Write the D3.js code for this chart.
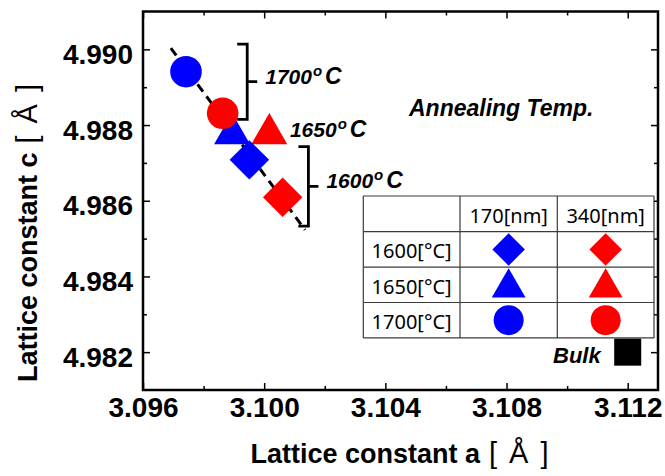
<!DOCTYPE html>
<html lang="en">
<head>
<meta charset="UTF-8">
<title>Lattice constants vs annealing temperature</title>
<script src="https://d3js.org/d3.v7.min.js"></script>
<style>
  body { margin: 0; background: #fff; }
  svg { display: block; font-family: 'Liberation Sans', Arial, sans-serif; }
  .tick text { font-size: 28px; font-weight: bold; fill: #000; }
  .tick line { stroke: #000; stroke-width: 1.5; }
  .tbl text { font-family: 'Noto Sans', sans-serif; font-size: 20px; fill: #000; }
</style>
</head>
<body>
<svg id="chart" width="665" height="476"></svg>
<script>
// annealing temperatures and layer thicknesses
const temps = ["1600", "1650", "1700"];
const thicknesses = ["170[nm]", "340[nm]"];

// 170 nm samples (blue), in order of temps
const a170 = [3.09951, 3.09894, 3.09742];
const c170 = [4.98708, 4.98777, 4.98941];
// 340 nm samples (red)
const a340 = [3.10061, 3.10017, 3.09863];
const c340 = [4.98609, 4.98777, 4.98831];
// bulk reference
const aBulk = [3.112];
const cBulk = [4.982];

// dashed guide line
const fitA = [3.09692, 3.10135];
const fitC = [4.99003, 4.98523];

// brackets grouping the 1700 and 1600 points, and the 1650 label anchor
const bracketLabels = ["1700", "1600"];
const bracketA = [3.09944, 3.10146];
const bracketTop = [4.99014, 4.98743];
const bracketBottom = [4.98815, 4.98533];
const label1650 = [3.10085, 4.98769];

const xMajor = [3.096, 3.100, 3.104, 3.108, 3.112];
const xMinor = [3.098, 3.102, 3.106, 3.110];
const yMajor = [4.982, 4.984, 4.986, 4.988, 4.990];
const yMinor = [4.983, 4.985, 4.987, 4.989];

const colors = ["#0000ff", "#ff0000"];
const symbolFor = { "1600": "diamond", "1650": "triangle", "1700": "circle" };

const svg = d3.select("#chart");
const x = d3.scaleLinear().domain([3.096, 3.113]).range([143, 658]);
const y = d3.scaleLinear().domain([4.981, 4.991]).range([390, 11.5]);
const fmt = d3.format(".3f");

function markerPath(kind, scale) {
    const s = scale || 1;
    if (kind === "diamond") return d3.symbol(d3.symbolSquare, 778 * s)();
    if (kind === "triangle") return d3.symbol(d3.symbolTriangle, 560 * s)();
    return d3.symbol(d3.symbolCircle, 784 * s)();
}

function addAxis(axis, vals, size, pad, labels, transform) {
    const g = svg.append("g")
        .attr("transform", transform || null)
        .call(axis.tickValues(vals).tickSize(-size).tickPadding(pad).tickFormat(labels ? fmt : ""));
    g.select(".domain").remove();
    return g;
}

const [x0, x1] = x.range();
const [y0, y1] = y.range();

// ticks, all pointing inward
addAxis(d3.axisBottom(x), xMajor, 7, 7, true, `translate(0,${y0})`);
addAxis(d3.axisBottom(x), xMinor, 4, 7, false, `translate(0,${y0})`);
addAxis(d3.axisTop(x), xMajor, 7, 7, false, `translate(0,${y1})`);
addAxis(d3.axisTop(x), xMinor, 4, 7, false, `translate(0,${y1})`);
addAxis(d3.axisLeft(y), yMajor, 7, 10, true, `translate(${x0},0)`)
    .selectAll("text").attr("dy", "0.5em");
addAxis(d3.axisLeft(y), yMinor, 4, 10, false, `translate(${x0},0)`);
addAxis(d3.axisRight(y), yMajor, 7, 10, false, `translate(${x1},0)`);
addAxis(d3.axisRight(y), yMinor, 4, 10, false, `translate(${x1},0)`);

// frame
svg.append("rect")
    .attr("x", x0).attr("y", y1)
    .attr("width", x1 - x0).attr("height", y0 - y1)
    .attr("fill", "none").attr("stroke", "#000").attr("stroke-width", 2.5);

// dashed guide
svg.append("path")
    .datum(fitA.map((a, i) => [a, fitC[i]]))
    .attr("fill", "none").attr("stroke", "#000")
    .attr("stroke-width", 3).attr("stroke-dasharray", "9,6")
    .attr("d", d3.line().x(d => x(d[0])).y(d => y(d[1])));

// points: triangles, diamonds, then circles on top
const points = [];
temps.forEach((t, i) => {
    points.push({ t, a: a170[i], c: c170[i], color: colors[0] });
    points.push({ t, a: a340[i], c: c340[i], color: colors[1] });
});
const order = { "1650": 0, "1600": 1, "1700": 2 };
points.sort((p, q) => order[p.t] - order[q.t]);

svg.selectAll(".pt")
    .data(points)
    .enter().append("path")
    .attr("class", "pt")
    .attr("d", d => markerPath(symbolFor[d.t]))
    .attr("fill", d => d.color)
    .attr("transform", d => `translate(${x(d.a)},${y(d.c)})` + (symbolFor[d.t] === "diamond" ? " rotate(45)" : ""));

// brackets
bracketLabels.forEach((lab, i) => {
    const bx = x(bracketA[i]);
    const bt = y(bracketTop[i]);
    const bb = y(bracketBottom[i]);
    const mid = (bt + bb) / 2;
    svg.append("path")
        .attr("d", `M${bx - 10},${bt}H${bx}V${bb}H${bx - 10}M${bx},${mid}H${bx + 10}`)
        .attr("fill", "none").attr("stroke", "#000").attr("stroke-width", 2.8);
    tempLabel(bx + 18, mid + 2, lab);
});
tempLabel(x(label1650[0]), y(label1650[1]), "1650");

function tempLabel(px, py, lab) {
    const t = svg.append("text")
        .attr("x", px).attr("y", py)
        .attr("font-size", 21).attr("font-weight", "bold").attr("font-style", "italic");
    t.append("tspan").text(lab);
    t.append("tspan").attr("font-size", 15).attr("dy", -8).attr("dx", 1).text("o");
    t.append("tspan").attr("font-size", 23).attr("dy", 8).attr("dx", 3).text("C");
}

svg.append("text")
    .attr("x", 409).attr("y", 116)
    .attr("font-size", 23).attr("font-weight", "bold").attr("font-style", "italic")
    .text("Annealing Temp.");

// legend table
const tbl = { left: 363.3, top: 196, colW: [96.7, 97.3, 96.7], headH: 35.7, rowH: 35.4 };
const tg = svg.append("g").attr("class", "tbl");
const colX = [tbl.left];
tbl.colW.forEach(w => colX.push(colX[colX.length - 1] + w));
const rowY = [tbl.top, tbl.top + tbl.headH];
temps.forEach(() => rowY.push(rowY[rowY.length - 1] + tbl.rowH));

tg.append("rect")
    .attr("x", colX[0]).attr("y", rowY[0])
    .attr("width", colX[3] - colX[0]).attr("height", rowY[rowY.length - 1] - rowY[0])
    .attr("fill", "#fff");
colX.forEach(cx => tg.append("line")
    .attr("x1", cx).attr("x2", cx).attr("y1", rowY[0]).attr("y2", rowY[rowY.length - 1])
    .attr("stroke", "#3a3a3a").attr("stroke-width", 1.2));
rowY.forEach(ry => tg.append("line")
    .attr("x1", colX[0]).attr("x2", colX[3]).attr("y1", ry).attr("y2", ry)
    .attr("stroke", "#3a3a3a").attr("stroke-width", 1.2));

const colMid = i => (colX[i] + colX[i + 1]) / 2;
const rowMid = i => (rowY[i] + rowY[i + 1]) / 2;

thicknesses.forEach((th, j) => {
    tg.append("text").attr("x", colMid(j + 1)).attr("y", rowMid(0) + 8.8)
        .attr("text-anchor", "middle").text(th);
});
temps.forEach((t, i) => {
    tg.append("text").attr("x", colMid(0)).attr("y", rowMid(i + 1) + 8.8)
        .attr("text-anchor", "middle").text(t + "[°C]");
    colors.forEach((col, j) => {
        const kind = symbolFor[t];
        tg.append("path")
            .attr("d", markerPath(kind, kind === "diamond" ? 0.68 : kind === "triangle" ? 0.88 : 0.9))
            .attr("fill", col)
            .attr("transform", `translate(${colMid(j + 1)},${rowMid(i + 1) + (kind === "triangle" ? 3 : 0)})` + (kind === "diamond" ? " rotate(45)" : ""));
    });
});

// bulk
svg.selectAll(".bulk")
    .data(aBulk.map((a, i) => [a, cBulk[i]]))
    .enter().append("path")
    .attr("class", "bulk")
    .attr("d", d3.symbol(d3.symbolSquare, 730)())
    .attr("fill", "#000")
    .attr("transform", d => `translate(${x(d[0])},${y(d[1])})`);
svg.append("text")
    .attr("x", 553).attr("y", 362.7)
    .attr("font-size", 22).attr("font-weight", "bold").attr("font-style", "italic")
    .text("Bulk");

// axis titles: bold words, then a light-weight bracketed unit
function unitTitle(sel, words) {
    sel.append("tspan").text(words);
    sel.append("tspan").attr("font-weight", "normal").attr("font-size", 29)
        .attr("letter-spacing", 2).attr("dx", 9).text("[ Å ]");
}
const xt = svg.append("text")
    .attr("x", (x0 + x1) / 2).attr("y", 463)
    .attr("text-anchor", "middle")
    .attr("font-size", 27).attr("font-weight", "bold");
unitTitle(xt, "Lattice constant a");

const yt = svg.append("text")
    .attr("transform", `translate(37,232) rotate(-90)`)
    .attr("text-anchor", "middle")
    .attr("font-size", 27).attr("font-weight", "bold");
unitTitle(yt, "Lattice constant c");
</script>
</body>
</html>
